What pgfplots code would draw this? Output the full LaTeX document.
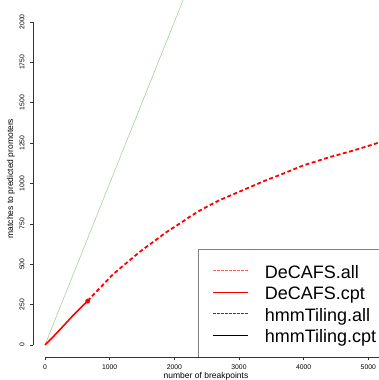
\documentclass[border=0pt]{standalone}
\usepackage{pgfplots}
\pgfplotsset{compat=1.18}
\usepackage{fontspec}
\setmainfont{Liberation Sans}
\definecolor{rred}{RGB}{255,0,0}
\definecolor{lred}{RGB}{255,90,90}
\definecolor{pgreen}{RGB}{150,200,150}
\definecolor{axgray}{RGB}{50,50,50}
\begin{document}
\begin{tikzpicture}
\begin{axis}[
  scale only axis, width=346pt, height=357pt,
  xmin=-185.6, xmax=5165.5, ymin=-74.3, ymax=2136.2,
  axis line style={draw=none},
  clip=false,
  xtick={0,1000,2000,3000,4000,5000},
  ytick={0,250,500,750,1000,1250,1500,1750,2000},
  xtick pos=bottom, ytick pos=left,
  tick align=outside, major tick length=3pt,
  tick style={axgray, line width=0.5pt},
  /pgf/number format/assume math mode=true,
  /pgf/number format/1000 sep={},
  xticklabel style={font=\fontsize{6.8}{7}\selectfont, anchor=center, yshift=-7pt},
  yticklabel style={font=\fontsize{6.8}{7}\selectfont, xshift=-8pt, rotate=90, anchor=center},
  xlabel={number of breakpoints},
  ylabel={matches to predicted promoters},
  xlabel style={font=\fontsize{8.5}{9}\selectfont, at={(rel axis cs:0.5,0)}, anchor=base, yshift=-21pt},
  ylabel style={font=\fontsize{8.5}{9}\selectfont, at={(rel axis cs:0,0.5)}, anchor=base, yshift=20pt},
  legend style={draw=none, fill=none, at={(rel axis cs:0.5202,0.2620)}, anchor=north west,
    inner sep=0pt, row sep=0pt,
    nodes={inner sep=0pt, font=\fontsize{18}{21}\selectfont, text height=14.5pt, text depth=7pt},
    cells={anchor=west},
    /tikz/every odd column/.append style={column sep=16pt}},
  legend image code/.code={\draw[#1] (0pt,4pt) -- (35pt,4pt);},
]
% y = x reference line
\addplot[pgreen, line width=0.5pt, forget plot] coordinates {(0,0) (2160,2160)};
% DeCAFS.all dashed
\addplot[rred, line width=1.8pt, dash pattern=on 4pt off 2.5pt, forget plot] coordinates {
(660,272) (696,289) (1057,440) (1469,578) (1882,700) (2088,753) (2243,795) (2397,833) (2526,861)
(2706,898) (3067,960) (3429,1022) (3634,1053) (3995,1112) (4408,1164) (4768,1204) (5130,1249) (5200,1258)};
% DeCAFS.cpt solid
\addplot[rred, line width=1.6pt, forget plot] coordinates {
(0,0) (100,40) (200,82) (335,140) (450,190) (550,230) (660,272)};
\addplot[rred, only marks, mark=*, mark size=2.2pt, forget plot] coordinates {(660,272)};
% legend entries
\addlegendimage{lred, line width=0.6pt, dash pattern=on 2.5pt off 1.5pt}
\addlegendentry{DeCAFS.all}
\addlegendimage{rred, line width=0.6pt}
\addlegendentry{DeCAFS.cpt}
\addlegendimage{black!75, line width=0.6pt, dash pattern=on 2.5pt off 1.5pt}
\addlegendentry{hmmTiling.all}
\addlegendimage{black, line width=0.6pt}
\addlegendentry{hmmTiling.cpt}
% R-style axis lines
\draw[axgray, line width=0.6pt] (axis cs:-185.6,0) -- (axis cs:-185.6,2000);
% legend box
\draw[gray, line width=0.7pt] (rel axis cs:0.4769,0) rectangle (rel axis cs:1.05,0.3025);
\draw[axgray, line width=0.6pt] (axis cs:0,-74.3) -- (axis cs:6000,-74.3);
\coordinate (bl) at (rel axis cs:-0.09538,-0.06443);
\coordinate (tr) at (rel axis cs:1,1);
\end{axis}
\pgfresetboundingbox
\useasboundingbox (bl) rectangle (tr);
\end{tikzpicture}
\end{document}
